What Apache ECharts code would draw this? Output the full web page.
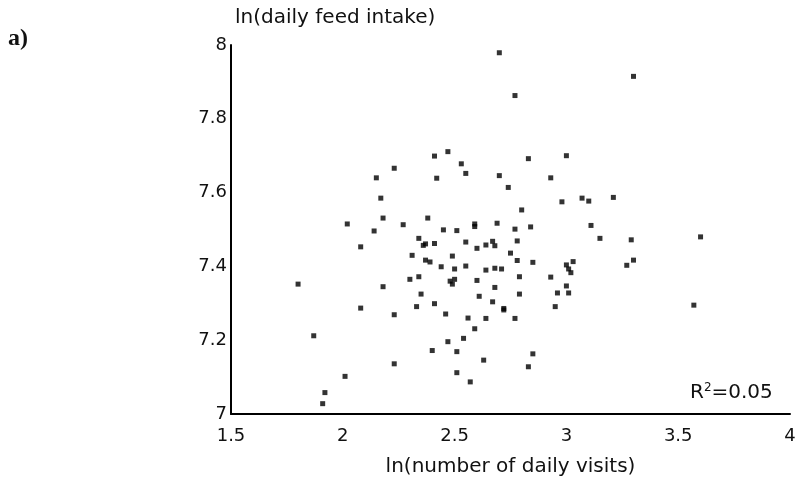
<!DOCTYPE html>
<html lang="en">
<head>
    <meta charset="UTF-8">
    <title>feed intake vs visits</title>
    <script src="https://cdn.jsdelivr.net/npm/echarts@6/dist/echarts.min.js"></script>
    <style>
        body { margin: 0; background: #fff; }
        #container { width: 799px; height: 488px; }
    </style>
</head>
<body>
    <div id="container"></div>
</body>
<script>
    // ln(number of daily visits)
    var visits = [2.70, 2.77, 3.30, 2.15, 2.23, 2.41, 2.47, 2.42, 2.53, 2.55,
        2.70, 2.83, 3.00, 2.93, 2.74, 2.17, 2.98, 3.07, 3.10, 3.21,
        2.80, 2.02, 2.18, 2.27, 2.38, 2.14, 2.34, 2.36, 2.37, 2.41,
        2.45, 2.51, 2.59, 2.59, 2.69, 2.77, 2.84, 3.11, 2.08, 2.55,
        2.60, 2.64, 2.67, 2.68, 2.78, 3.15, 3.29, 3.60, 2.31, 2.37,
        2.39, 2.49, 2.75, 2.78, 2.85, 3.00, 3.01, 3.03, 3.02, 3.27,
        3.30, 2.44, 2.50, 2.55, 2.64, 2.68, 2.71, 1.80, 2.30, 2.34,
        2.18, 2.48, 2.49, 2.50, 2.60, 2.68, 2.79, 2.93, 3.00, 2.35,
        2.61, 2.67, 2.79, 2.96, 3.01, 2.08, 2.33, 2.41, 2.46, 2.56,
        2.64, 2.23, 2.72, 2.72, 2.77, 2.95, 3.57, 2.59, 1.87, 2.54,
        2.47, 2.40, 2.51, 2.63, 2.85, 2.83, 2.23, 2.01, 2.51, 2.57,
        1.92, 1.91];
    // ln(daily feed intake)
    var intake = [7.979, 7.863, 7.915, 7.640, 7.666, 7.699, 7.711, 7.639, 7.678, 7.652,
        7.646, 7.692, 7.700, 7.640, 7.614, 7.585, 7.575, 7.585, 7.577, 7.587,
        7.553, 7.515, 7.531, 7.513, 7.531, 7.496, 7.476, 7.457, 7.461, 7.462,
        7.499, 7.497, 7.508, 7.515, 7.517, 7.501, 7.507, 7.511, 7.453, 7.466,
        7.449, 7.458, 7.468, 7.456, 7.469, 7.476, 7.472, 7.480, 7.430, 7.417,
        7.412, 7.428, 7.436, 7.416, 7.411, 7.404, 7.393, 7.413, 7.383, 7.403,
        7.417, 7.399, 7.393, 7.401, 7.390, 7.395, 7.393, 7.352, 7.365, 7.372,
        7.345, 7.360, 7.352, 7.365, 7.362, 7.343, 7.372, 7.371, 7.347, 7.325,
        7.319, 7.304, 7.325, 7.328, 7.328, 7.287, 7.291, 7.299, 7.271, 7.260,
        7.259, 7.269, 7.282, 7.286, 7.259, 7.291, 7.295, 7.231, 7.212, 7.205,
        7.196, 7.172, 7.169, 7.146, 7.163, 7.128, 7.136, 7.102, 7.112, 7.087,
        7.058, 7.028];

    var points = visits.map(function (v, i) { return [v, intake[i]]; });

    var font = '"DejaVu Sans", sans-serif';
    var myChart = echarts.init(document.getElementById('container'));
    var option = {
        animation: false,
        backgroundColor: '#fff',
        grid: { left: 231, right: 9, top: 45, bottom: 74 },
        xAxis: {
            type: 'value',
            min: 1.5,
            max: 4,
            interval: 0.5,
            name: 'ln(number of daily visits)',
            nameLocation: 'middle',
            nameGap: 43,
            nameTextStyle: { fontFamily: font, fontSize: 20, color: '#111' },
            axisLine: { lineStyle: { color: '#000', width: 2 } },
            axisTick: { show: false },
            splitLine: { show: false },
            axisLabel: { margin: 13, fontFamily: font, fontSize: 18, color: '#111' }
        },
        yAxis: {
            type: 'value',
            min: 7,
            max: 8,
            interval: 0.2,
            axisLine: { show: true, lineStyle: { color: '#000', width: 2 } },
            axisTick: { show: false },
            splitLine: { show: false },
            axisLabel: { margin: 4, fontFamily: font, fontSize: 18, color: '#111' }
        },
        graphic: [
            {
                type: 'text', left: 8, top: 27,
                style: { text: 'a)', font: 'bold 24px "Liberation Serif", serif', fill: '#111' }
            },
            {
                type: 'text', left: 235, top: 8,
                style: { text: 'ln(daily feed intake)', font: '20px ' + font, fill: '#111' }
            },
            {
                type: 'text', left: 690, top: 382,
                style: {
                    text: 'R{sup|2}=0.05',
                    font: '20px ' + font,
                    fill: '#111',
                    rich: { sup: { fontSize: 12, fontFamily: font, verticalAlign: 'top', padding: [0, 0, 10, 0] } }
                }
            }
        ],
        series: [{
            type: 'scatter',
            data: points,
            symbol: 'rect',
            symbolSize: 5,
            itemStyle: { color: '#000' }
        }]
    };
    myChart.setOption(option);
</script>
</html>
